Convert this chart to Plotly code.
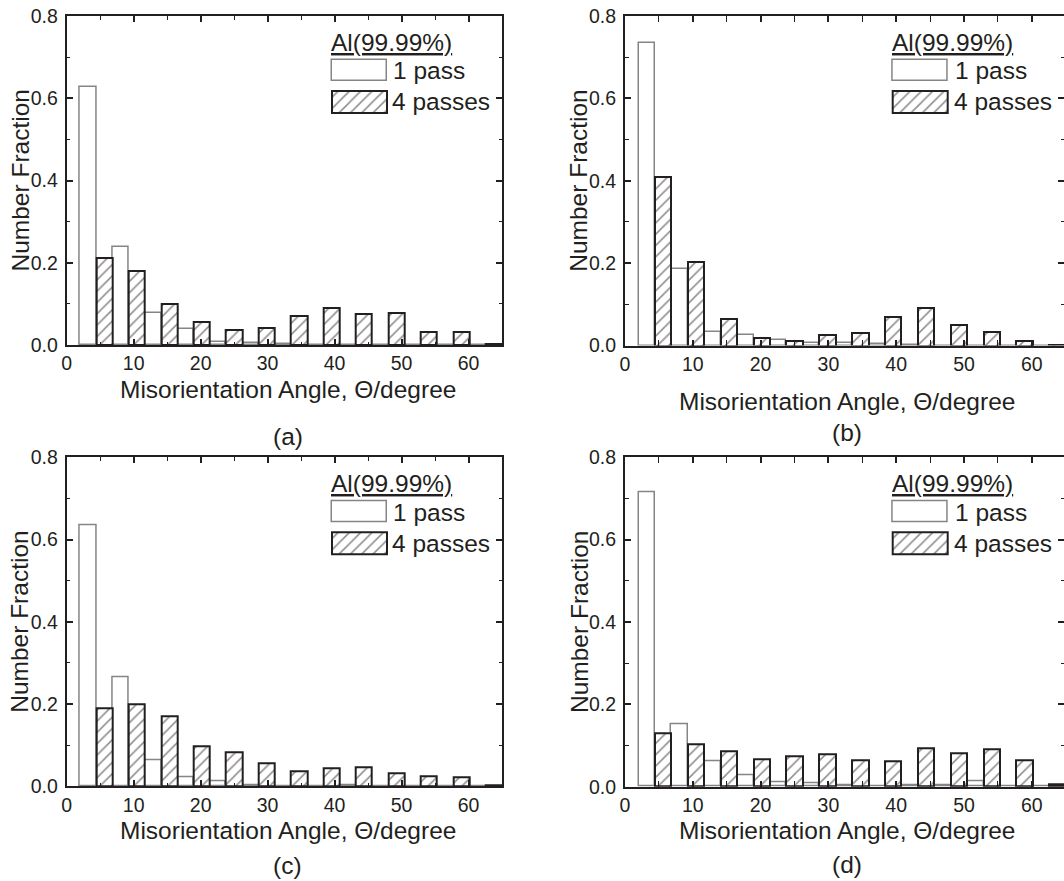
import numpy as np
import plotly.graph_objects as go

# ---------------- data (number fraction per misorientation bin) ----------------
bin_lo, bin_hi, n_bins = 2.0, 65.0, 13
series_names = ["1 pass", "4 passes"]
legend_title = "Al(99.99%)"
panel_labels = ["(a)", "(b)", "(c)", "(d)"]
x_title = "Misorientation Angle, \u0398/degree"
y_title = "Number Fraction"
x_ticks = [0, 10, 20, 30, 40, 50, 60]
y_ticks = [0.0, 0.2, 0.4, 0.6, 0.8]

pass1_a = [0.628, 0.239, 0.079, 0.038, 0.007, 0.006, 0.003, 0.001, 0.0, 0.0, 0.0, 0.0, 0.0]
pass4_a = [0.211, 0.181, 0.099, 0.055, 0.036, 0.041, 0.070, 0.089, 0.075, 0.077, 0.031, 0.031, 0.002]
pass1_b = [0.735, 0.185, 0.033, 0.025, 0.014, 0.005, 0.007, 0.004, 0.001, 0.0, 0.0, 0.0, 0.0]
pass4_b = [0.408, 0.203, 0.065, 0.019, 0.010, 0.025, 0.030, 0.068, 0.091, 0.050, 0.034, 0.011, 0.002]
pass1_c = [0.634, 0.264, 0.063, 0.023, 0.011, 0.002, 0.0, 0.0, 0.002, 0.0, 0.0, 0.0, 0.0]
pass4_c = [0.189, 0.199, 0.170, 0.097, 0.082, 0.055, 0.037, 0.044, 0.045, 0.032, 0.024, 0.021, 0.003]
pass1_d = [0.714, 0.152, 0.061, 0.028, 0.011, 0.008, 0.003, 0.002, 0.003, 0.004, 0.012, 0.0, 0.0]
pass4_d = [0.129, 0.104, 0.086, 0.066, 0.075, 0.079, 0.063, 0.062, 0.094, 0.080, 0.091, 0.063, 0.006]

# ---------------- layout helpers ----------------
W, H = 1064, 881
FONT = "Liberation Sans, Arial, Helvetica, sans-serif"
INK = "#231f20"
GRAY = "#858585"
BIG = 24.5
TICK = 19.5


def fx(p):
    return p / W


def fy(p):
    return 1 - p / H


edges = np.linspace(bin_lo, bin_hi, n_bins + 1)
centers = (edges[:-1] + edges[1:]) / 2

# panel frames in pixels: left, right, top, bottom, x-range max, text anchors
panels = [
    dict(p1=pass1_a, p4=pass4_a, l=66.7, r=502, t=16, b=345, xr=65.0, leg_l=332, txt_l=391,
         xt_y=390, lab_x=287.5, lab_y=436, yt_x=20),
    dict(p1=pass1_b, p4=pass4_b, l=625, r=1064, t=16, b=345.5, xr=64.75, leg_l=892.7, txt_l=953,
         xt_y=401, lab_x=846.5, lab_y=432.5, yt_x=579),
    dict(p1=pass1_c, p4=pass4_c, l=66.7, r=502, t=457.3, b=786.3, xr=65.0, leg_l=332, txt_l=391,
         xt_y=830, lab_x=287.5, lab_y=865, yt_x=20),
    dict(p1=pass1_d, p4=pass4_d, l=625, r=1064, t=457.3, b=786.7, xr=64.75, leg_l=892.7, txt_l=953,
         xt_y=830, lab_x=846.5, lab_y=864, yt_x=579),
]

fig = go.Figure()
layout = dict(
    width=W, height=H, margin=dict(l=0, r=0, t=0, b=0, autoexpand=False),
    paper_bgcolor="white", plot_bgcolor="rgba(0,0,0,0)",
    barmode="group", bargap=0, bargroupgap=0, showlegend=False,
    font=dict(family=FONT, color=INK),
)
annotations = []

hatch = dict(shape="/", size=8, solidity=0.2, fgcolor=INK, bgcolor="white")

for i, p in enumerate(panels, start=1):
    xa, ya = f"x{i}", f"y{i}"
    fig.add_trace(go.Bar(x=centers, y=p["p1"], xaxis=xa, yaxis=ya, name=series_names[0],
                         marker=dict(color="white", line=dict(color=GRAY, width=1.5))))
    fig.add_trace(go.Bar(x=centers, y=p["p4"], xaxis=xa, yaxis=ya, name=series_names[1],
                         marker=dict(color="white", pattern=hatch, line=dict(color=INK, width=2))))
    right_cut = p["r"] >= W - 0.5
    layout[f"xaxis{i}"] = dict(
        domain=[fx(p["l"]), fx(p["r"])], anchor=ya, range=[0, p["xr"]],
        tickvals=x_ticks, ticks="inside", ticklen=6, tickwidth=1.5, tickcolor=INK,
        showline=True, linecolor=INK, linewidth=2, mirror="allticks",
        showgrid=False, zeroline=False, ticklabelstandoff=0,
        tickfont=dict(family=FONT, size=TICK, color=INK),
        minor=dict(dtick=5, tick0=0, ticks="inside", ticklen=3.5, tickwidth=1.2, tickcolor=INK, showgrid=False),
    )
    layout[f"yaxis{i}"] = dict(
        domain=[fy(p["b"]), fy(p["t"])], anchor=xa, range=[0, 0.8],
        tickvals=y_ticks, tickformat=".1f", ticks="inside", ticklen=6, tickwidth=1.5, tickcolor=INK,
        showline=True, linecolor=INK, linewidth=2,
        mirror=False if right_cut else "allticks",
        showgrid=False, zeroline=False, ticklabelstandoff=3,
        tickfont=dict(family=FONT, size=TICK, color=INK),
        minor=dict(dtick=0.1, tick0=0, ticks="inside", ticklen=3.5, tickwidth=1.2, tickcolor=INK, showgrid=False),
    )
    if right_cut:
        # right-side ticks only (the frame itself lies just outside the image)
        k = 8 + i
        layout[f"yaxis{k}"] = dict(
            overlaying=ya, side="right", anchor=xa, range=[0, 0.8], tickvals=y_ticks,
            ticks="inside", ticklen=6, tickwidth=1.5, tickcolor=INK, showticklabels=False,
            showline=False, showgrid=False, zeroline=False,
            minor=dict(dtick=0.1, tick0=0, ticks="inside", ticklen=3.5, tickwidth=1.2, tickcolor=INK),
        )
        fig.add_trace(go.Scatter(x=[None], y=[None], xaxis=xa, yaxis=f"y{k}", mode="markers",
                                 hoverinfo="skip"))

    # ---- legend key (boxes drawn on a small helper axis with a few px of padding) ----
    j = 4 + i
    top = p["t"] + 44
    pad = 4
    bw = 55.0
    layout[f"xaxis{j}"] = dict(domain=[fx(p["leg_l"] - pad), fx(p["leg_l"] + bw + pad)], anchor=f"y{j}",
                               range=[-0.5 - pad / bw, 0.5 + pad / bw], visible=False, fixedrange=True)
    layout[f"yaxis{j}"] = dict(domain=[fy(top + 53 + pad), fy(top - pad)], anchor=f"x{j}",
                               range=[-pad, 53 + pad], visible=False, fixedrange=True)
    fig.add_trace(go.Bar(x=[0, 0], y=[21, 22], base=[32, 0], width=1, xaxis=f"x{j}", yaxis=f"y{j}",
                         hoverinfo="skip",
                         marker=dict(color="white",
                                     pattern=dict(shape=["", "/"], size=8, solidity=0.2,
                                                  fgcolor=INK, bgcolor="white"),
                                     line=dict(color=[GRAY, INK], width=[1.5, 2]))))
    tf = dict(family=FONT, size=BIG, color=INK)
    annotations += [
        dict(text=f"<u>{legend_title}</u>", x=fx(p["leg_l"] - 3), y=fy(p["t"] + 26.5),
             xref="paper", yref="paper", xanchor="left", yanchor="middle", showarrow=False, font=tf),
        dict(text=series_names[0], x=fx(p["txt_l"]), y=fy(p["t"] + 55),
             xref="paper", yref="paper", xanchor="left", yanchor="middle", showarrow=False, font=tf),
        dict(text=series_names[1], x=fx(p["txt_l"] - 1), y=fy(p["t"] + 86),
             xref="paper", yref="paper", xanchor="left", yanchor="middle", showarrow=False, font=tf),
        dict(text=x_title, x=fx(p["lab_x"]), y=fy(p["xt_y"]), xref="paper", yref="paper",
             xanchor="center", yanchor="middle", showarrow=False, font=tf),
        dict(text=panel_labels[i - 1], x=fx(p["lab_x"]), y=fy(p["lab_y"]),
             xref="paper", yref="paper", xanchor="center", yanchor="middle", showarrow=False, font=tf),
        dict(text=y_title, textangle=-90, x=fx(p["yt_x"]), y=fy((p["t"] + p["b"]) / 2),
             xref="paper", yref="paper", xanchor="center", yanchor="middle", showarrow=False, font=tf),
    ]

layout["annotations"] = annotations
fig.update_layout(**layout)
fig.write_html("out.html", post_script="document.body.style.margin='0';",
               config={"displayModeBar": False})
